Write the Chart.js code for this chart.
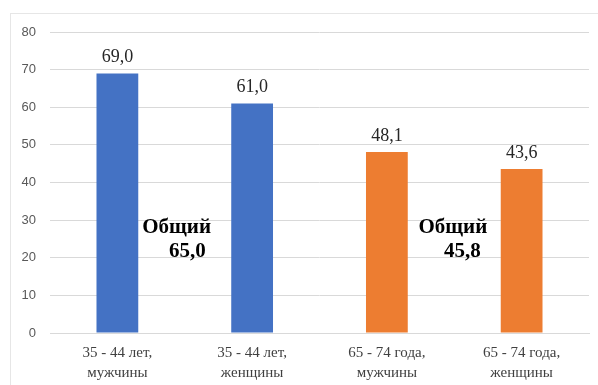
<!DOCTYPE html>
<html>
<head>
<meta charset="utf-8">
<script src="https://cdn.jsdelivr.net/npm/chart.js@4/dist/chart.umd.min.js"></script>
<style>
  html, body { margin: 0; padding: 0; background: #fff; }
  #wrap { position: relative; width: 598px; height: 385px; overflow: hidden; }
  #frame { position: absolute; left: 10px; top: 13px; width: 600px; height: 400px;
           border-left: 1px solid #e6e6e6; border-top: 1px solid #e6e6e6; box-sizing: border-box; }
  canvas { position: absolute; left: 0; top: 0; }
</style>
</head>
<body>
<div id="wrap">
  <div id="frame"></div>
  <canvas id="c" width="598" height="385"></canvas>
</div>
<script>
const categories = [
  ["35 - 44 лет,", "мужчины"],
  ["35 - 44 лет,", "женщины"],
  ["65 - 74 года,", "мужчины"],
  ["65 - 74 года,", "женщины"]
];
const values = [69.0, 61.0, 48.1, 43.6];
const barColors = ["#4472C4", "#4472C4", "#ED7D31", "#ED7D31"];
const yTicks = [0, 10, 20, 30, 40, 50, 60, 70, 80];
const totalLabels = ["Общий", "65,0", "Общий", "45,8"];
// anchor positions in scale units (category index, value)
const totalAnchors = [[0.44, 27.9], [0.52, 21.6], [2.49, 27.9], [2.56, 21.6]];

const fmt = v => v.toFixed(1).replace('.', ',');

const valueLabels = {
  id: 'valueLabels',
  afterDatasetsDraw(chart) {
    const ctx = chart.ctx;
    const meta = chart.getDatasetMeta(0);
    ctx.save();
    ctx.font = '18px "Liberation Serif", "Times New Roman", serif';
    ctx.fillStyle = '#262626';
    ctx.textAlign = 'center';
    ctx.textBaseline = 'middle';
    meta.data.forEach((bar, i) => {
      ctx.fillText(fmt(values[i]), bar.x, bar.y - 16);
    });
    ctx.font = 'bold 21px "Liberation Serif", "Times New Roman", serif';
    ctx.fillStyle = '#000';
    const xs = chart.scales.x, ys = chart.scales.y;
    totalLabels.forEach((t, i) => {
      const [cx, cy] = totalAnchors[i];
      const px = xs.getPixelForValue(0) + cx * (xs.getPixelForValue(1) - xs.getPixelForValue(0));
      ctx.fillText(t, px, ys.getPixelForValue(cy));
    });
    ctx.restore();
  }
};

new Chart(document.getElementById('c'), {
  type: 'bar',
  data: {
    labels: categories,
    datasets: [{
      data: values,
      backgroundColor: barColors,
      borderWidth: 0,
      categoryPercentage: 1,
      barPercentage: 0.31
    }]
  },
  options: {
    responsive: false,
    animation: false,
    layout: { padding: { left: 10, right: 9, top: 32, bottom: 0 } },
    plugins: { legend: { display: false }, tooltip: { enabled: false } },
    scales: {
      x: {
        grid: { display: false, drawTicks: false },
        border: { color: '#d9d9d9', width: 1 },
        ticks: {
          padding: 11,
          color: '#404040',
          maxRotation: 0,
          autoSkip: false,
          font: { family: '"Liberation Serif", "Times New Roman", serif', size: 15, lineHeight: 1.27 }
        },
        afterFit(s) { s.height = 52; }
      },
      y: {
        min: 0, max: 80,
        afterBuildTicks(s) { s.ticks = yTicks.map(v => ({ value: v })); },
        grid: { color: '#d9d9d9', lineWidth: 1, drawTicks: false },
        border: { display: false },
        ticks: {
          padding: 14,
          color: '#595959',
          font: { family: '"Liberation Sans", Arial, sans-serif', size: 13 }
        },
        afterFit(s) { s.width = 40; }
      }
    }
  },
  plugins: [valueLabels]
});
</script>
</body>
</html>
